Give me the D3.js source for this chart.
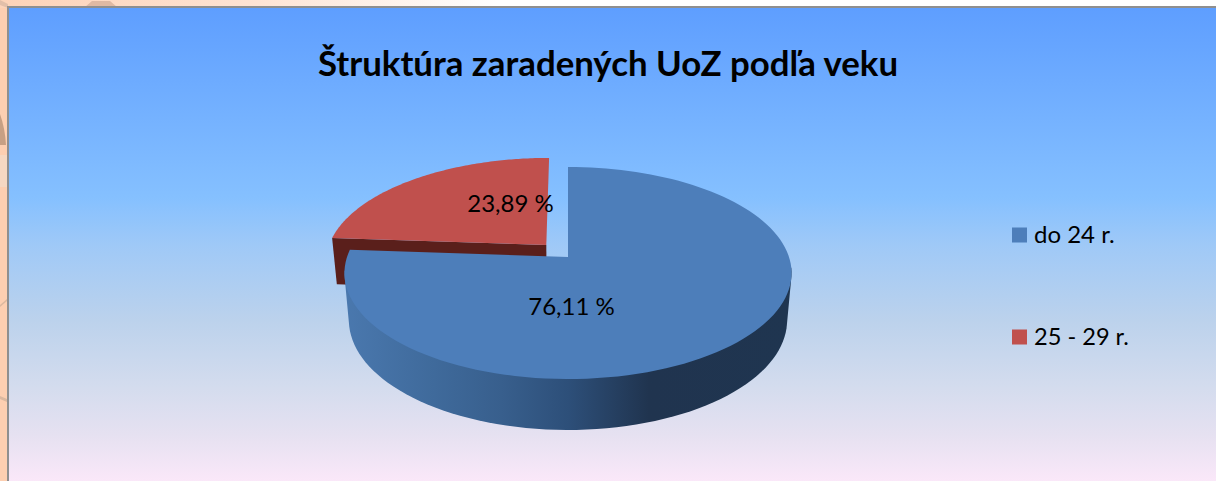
<!DOCTYPE html>
<html><head><meta charset="utf-8">
<script src="https://cdnjs.cloudflare.com/ajax/libs/d3/7.8.5/d3.min.js"></script>
<style>html,body{margin:0;padding:0;background:#fff;overflow:hidden}svg{display:block}text{font-family:Lato,"Noto Sans",sans-serif;fill:#000}</style>
</head><body><svg id="c" width="1216" height="481"></svg>
<script>
const categories = ["do 24 r.", "25 - 29 r."];
const values = [76.11, 23.89];
const labels = ["76,11 %", "23,89 %"];
const colors = ["#4d7eba", "#c0504d"];
const titleText = "Štruktúra zaradených UoZ podľa veku";

const svg = d3.select("#c");
const defs = svg.append("defs");
const bg = defs.append("linearGradient").attr("id","bg").attr("x1",0).attr("x2",0).attr("y1",0).attr("y2",1);
[[0,"#5e9eff"],[0.4,"#85c0ff"],[0.5,"#9fc9f7"],[0.66,"#bcd2ec"],[0.8,"#d4dcee"],[0.9,"#e6e1f1"],[1,"#fbe8f9"]].forEach(s=>bg.append("stop").attr("offset",s[0]).attr("stop-color",s[1]));
const strip = defs.append("linearGradient").attr("id","strip").attr("gradientUnits","userSpaceOnUse").attr("x1",0).attr("x2",500).attr("y1",0).attr("y2",0);
[[0,"#fdd3b8"],[0.5,"#fee3d3"],[1,"#ffffff"]].forEach(s=>strip.append("stop").attr("offset",s[0]).attr("stop-color",s[1]));
const side = defs.append("linearGradient").attr("id","side").attr("gradientUnits","userSpaceOnUse").attr("x1",345).attr("x2",792).attr("y1",0).attr("y2",0);
[[0,"#4a78ae"],[0.2,"#3f6a9b"],[0.35,"#385f8d"],[0.5,"#2d4f79"],[0.68,"#20344f"],[1,"#1f3550"]].forEach(s=>side.append("stop").attr("offset",s[0]).attr("stop-color",s[1]));

// page backdrop
svg.append("rect").attr("width",1216).attr("height",481).attr("fill","#fdcfb1");
svg.append("rect").attr("width",1216).attr("height",8).attr("fill","url(#strip)");
svg.append("path").attr("d","M85 7L92 1H110L117 7Z").attr("fill","#dfb9a3");
svg.append("path").attr("d","M0 0L8 4V8L0 5Z").attr("fill","#e2bfa9");
svg.append("rect").attr("x",0).attr("y",155).attr("width",7).attr("height",32).attr("fill","#f6d8c2");
svg.append("path").attr("d","M0 114Q5 128 6 145H0Z").attr("fill","#c7a084");
svg.append("path").attr("d","M0 305L7 299V301L0 307Z").attr("fill","#dcb9a0");
svg.append("path").attr("d","M0 396L7 399V402L0 399Z").attr("fill","#dcb9a0");
svg.append("rect").attr("x",8).attr("y",7).attr("width",1210).attr("height",476).attr("fill","url(#bg)");
svg.append("path").attr("d","M8 482V7H1216").attr("fill","none").attr("stroke","#8f8f8f").attr("stroke-width",2);

// perspective projection of the unit disc
const cx=568, cy=257, B=221, A=103.6, p=0.151;
const proj=(u,v)=>{const w=1+p*v;return [cx+B*u/w, cy-A*v/w];};
const lower=q=>[cx+(q[0]-cx)*0.98, cy+46.7+(q[1]-cy)*1.035];
const line=d3.line();
const pie=d3.pie().sort(null).startAngle(0).endAngle(2*Math.PI)(values);
const offsets=[[0,0],[-0.1,0.118]];
const rim=(d,i)=>{const o=offsets[i];return d3.range(0,121).map(k=>{const a=d.startAngle+(d.endAngle-d.startAngle)*k/120;return proj(Math.sin(a)+o[0],Math.cos(a)+o[1]);});};
const apex=i=>proj(offsets[i][0],offsets[i][1]);

// red: visible front wall, left wall, top
const rr=rim(pie[1],1), ra=apex(1);
svg.append("path").attr("d",line([rr[0],ra,lower(ra),lower(rr[0])])+"Z").attr("fill","#5a1f1b");
svg.append("path").attr("d",line([ra,...rr])+"Z").attr("fill",colors[1]);

// blue: silhouette of the rim wall, then top
const br=rim(pie[0],0), ba=apex(0);
const front=br.filter(q=>q[1]>cy+10);
svg.append("path").attr("d",line(d3.polygonHull([...front,...front.map(lower)]))+"Z").attr("fill","url(#side)");
svg.append("path").attr("d",line([ba,...br])+"Z").attr("fill",colors[0]);

// text
svg.append("text").attr("x",608).attr("y",76).attr("text-anchor","middle").attr("font-weight",700).attr("font-size",34.8).text(titleText);
svg.append("text").attr("x",571.5).attr("y",315).attr("text-anchor","middle").attr("font-size",24).text(labels[0]);
svg.append("text").attr("x",510.5).attr("y",212).attr("text-anchor","middle").attr("font-size",24).text(labels[1]);

// legend
const ly=d3.scalePoint().domain(categories).range([235,337]);
categories.forEach((c,i)=>{
  svg.append("rect").attr("x",1012).attr("y",ly(c)-7.5).attr("width",15).attr("height",15).attr("fill",colors[i]);
  svg.append("text").attr("x",1034).attr("y",ly(c)+8).attr("font-size",i?23.6:24).text(c);
});
</script></body></html>
